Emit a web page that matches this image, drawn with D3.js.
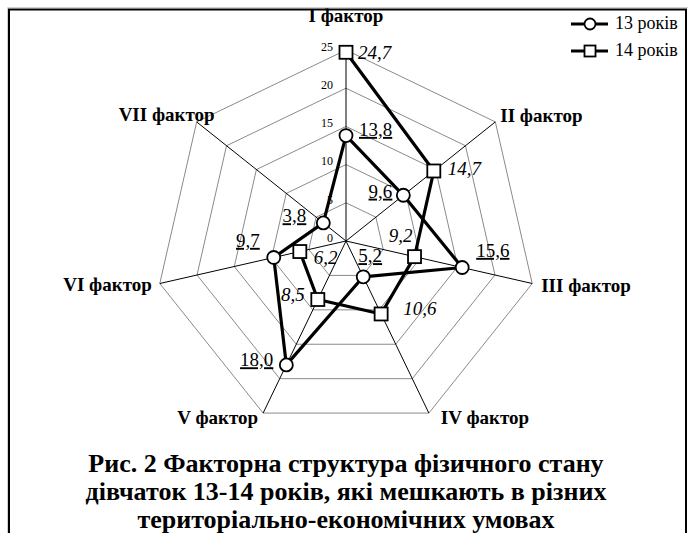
<!DOCTYPE html>
<html><head><meta charset="utf-8">
<script src="https://cdn.jsdelivr.net/npm/d3@7"></script>
<style>
html,body{margin:0;padding:0;background:#fff;}
svg{display:block;}
</style></head>
<body>
<svg id="chart" width="693" height="533"></svg>
<script>
// ---- data ----
const factors = ["I фактор","II фактор","III фактор","IV фактор","V фактор","VI фактор","VII фактор"];
const series13 = [13.8, 9.6, 15.6, 5.2, 18.0, 9.7, 3.8];
const series14 = [24.7, 14.7, 9.2, 10.6, 8.5, 6.2, null];
const seriesNames = ["13 років","14 років"];
const tickValues = [0, 5, 10, 15, 20, 25];
const titleLines = ["Рис. 2 Факторна структура фізичного стану","дівчаток 13-14 років, які мешкають в різних","територіально-економічних умовах"];

// ---- layout ----
const FONT = "Liberation Serif";
const cx = 346, cy = 241, R = 191;
const svg = d3.select("#chart");
const r = d3.scaleLinear().domain([0, 25]).range([0, R]);
const n = factors.length;
const ang = d3.scaleLinear().domain([0, n]).range([-Math.PI/2, 1.5*Math.PI]);
const pt = (i, v) => [cx + r(v)*Math.cos(ang(i)), cy + r(v)*Math.sin(ang(i))];
const txt = (sel) => sel.append("text").attr("font-family", FONT).attr("fill","#000");

// frame
svg.append("path").attr("d","M7.5,540 V7.5 H688").attr("fill","none").attr("stroke","#d0d0d0").attr("stroke-width",1);
svg.append("path").attr("d","M9,540 V9.5 H686 V540").attr("fill","none").attr("stroke","#000").attr("stroke-width",2);

// grid
tickValues.filter(t=>t>0).forEach(t=>{
  svg.append("polygon")
    .attr("points", d3.range(n).map(i=>pt(i,t).join(",")).join(" "))
    .attr("fill","none").attr("stroke","#8a8a8a").attr("stroke-width",1);
});
d3.range(n).forEach(i=>{
  const [x,y] = pt(i,25);
  svg.append("line").attr("x1",cx).attr("y1",cy).attr("x2",x).attr("y2",y)
    .attr("stroke","#000").attr("stroke-width",1);
});
// tick labels
tickValues.forEach(t=>{
  txt(svg).attr("x",cx-13).attr("y",cy - r(t) - 2)
    .attr("text-anchor","end").attr("dominant-baseline","middle")
    .attr("font-size",12).text(t);
});

// axis labels
const axisLabelPos = [[0,-32,"middle"],[5,-4,"start"],[9,4,"start"],[12,7,"start"],[-5,7,"end"],[-8,3,"end"],[18,-5,"end"]];
factors.forEach((f,i)=>{
  const [x,y] = pt(i,25);
  const p = axisLabelPos[i];
  txt(svg).attr("x",x+p[0]).attr("y",y+p[1])
    .attr("text-anchor",p[2]).attr("dominant-baseline","middle")
    .attr("font-size",19).attr("font-weight","bold").text(f);
});

// series lines
const line = d3.line().defined(d=>d[2]!=null).x(d=>d[0]).y(d=>d[1]);
function seriesPts(vals, closed){
  const arr = vals.map((v,i)=> v==null ? [0,0,null] : [...pt(i,v), v]);
  if (closed) arr.push(arr[0]);
  return arr;
}
svg.append("path").attr("d", line(seriesPts(series13, true)))
  .attr("fill","none").attr("stroke","#000").attr("stroke-width",3.2).attr("stroke-linejoin","round");
svg.append("path").attr("d", line(seriesPts(series14, false)))
  .attr("fill","none").attr("stroke","#000").attr("stroke-width",3.2).attr("stroke-linejoin","round");

// markers
series14.forEach((v,i)=>{
  if (v==null) return;
  const [x,y] = pt(i,v);
  svg.append("rect").attr("x",x-6.5).attr("y",y-6.5).attr("width",13).attr("height",13)
    .attr("fill","#fff").attr("stroke","#000").attr("stroke-width",1.8);
});
series13.forEach((v,i)=>{
  const [x,y] = pt(i,v);
  svg.append("circle").attr("cx",x).attr("cy",y).attr("r",6.5)
    .attr("fill","#fff").attr("stroke","#000").attr("stroke-width",1.8);
});

// data labels
const fmt = v => v.toFixed(1).replace(".",",");
const lab13 = [[13,-4,"start"],[-11,-2,"end"],[14,-15,"start"],[7,-19,"middle"],[-13,-3,"end"],[-14,-15,"end"],[-17,-5,"end"]];
const lab14 = [[12,2,"start"],[14,0,"start"],[-2,-19,"end"],[22,-3,"start"],[-13,-3,"end"],[14,8,"start"],null];
series13.forEach((v,i)=>{
  const [x,y] = pt(i,v); const o = lab13[i];
  txt(svg).attr("x",x+o[0]).attr("y",y+o[1]).attr("text-anchor",o[2])
    .attr("dominant-baseline","middle").attr("font-size",19)
    .attr("text-decoration","underline").text(fmt(v));
});
series14.forEach((v,i)=>{
  if (v==null) return;
  const [x,y] = pt(i,v); const o = lab14[i];
  txt(svg).attr("x",x+o[0]).attr("y",y+o[1]).attr("text-anchor",o[2])
    .attr("dominant-baseline","middle").attr("font-size",19)
    .attr("font-style","italic").text(fmt(v));
});

// legend
seriesNames.forEach((s,k)=>{
  const y = 24 + k*27;
  svg.append("line").attr("x1",571).attr("x2",608).attr("y1",y).attr("y2",y)
    .attr("stroke","#000").attr("stroke-width",3);
  if (k===0) svg.append("circle").attr("cx",590).attr("cy",y).attr("r",5.5)
    .attr("fill","#fff").attr("stroke","#000").attr("stroke-width",1.8);
  else svg.append("rect").attr("x",584.5).attr("y",y-5.5).attr("width",11).attr("height",11)
    .attr("fill","#fff").attr("stroke","#000").attr("stroke-width",1.8);
  txt(svg).attr("x",615).attr("y",y+1).attr("dominant-baseline","middle")
    .attr("font-size",18).text(s);
});

// title
titleLines.forEach((t,k)=>{
  txt(svg).attr("x",346).attr("y",466+k*28).attr("text-anchor","middle")
    .attr("dominant-baseline","middle").attr("font-size",26).attr("font-weight","bold").text(t);
});
</script>
</body></html>
